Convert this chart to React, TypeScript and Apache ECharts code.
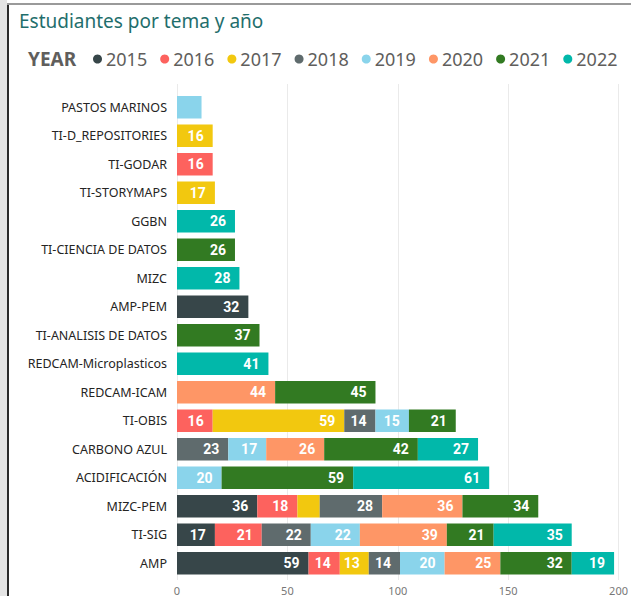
import React, { useEffect, useRef } from "react";
import * as echarts from "echarts";

const categories = [
  "PASTOS MARINOS",
  "TI-D_REPOSITORIES",
  "TI-GODAR",
  "TI-STORYMAPS",
  "GGBN",
  "TI-CIENCIA DE DATOS",
  "MIZC",
  "AMP-PEM",
  "TI-ANALISIS DE DATOS",
  "REDCAM-Microplasticos",
  "REDCAM-ICAM",
  "TI-OBIS",
  "CARBONO AZUL",
  "ACIDIFICACIÓN",
  "MIZC-PEM",
  "TI-SIG",
  "AMP",
];

const years = ["2015", "2016", "2017", "2018", "2019", "2020", "2021", "2022"];

const v2015 = [null, null, null, null, null, null, null, 32, null, null, null, null, null, null, 36, 17, 59];
const v2016 = [null, null, 16, null, null, null, null, null, null, null, null, 16, null, null, 18, 21, 14];
const v2017 = [null, 16, null, 17, null, null, null, null, null, null, null, 59, null, null, 10, null, 13];
const v2018 = [null, null, null, null, null, null, null, null, null, null, null, 14, 23, null, 28, 22, 14];
const v2019 = [11, null, null, null, null, null, null, null, null, null, null, 15, 17, 20, null, 22, 20];
const v2020 = [null, null, null, null, null, null, null, null, null, null, 44, null, 26, null, 36, 39, 25];
const v2021 = [null, null, null, null, null, 26, null, null, 37, null, 45, 21, 42, 59, 34, 21, 32];
const v2022 = [null, null, null, null, 26, null, 28, null, null, 41, null, null, 27, 61, null, 35, 19];

const yearValues = [v2015, v2016, v2017, v2018, v2019, v2020, v2021, v2022];

const xTicks = [0, 50, 100, 150, 200];

const colors = ["#374649", "#FD625E", "#F2C80F", "#5F6B6D", "#8AD4EB", "#FE9666", "#327A22", "#01B8AA"];

export default function App() {
  const ref = useRef<HTMLDivElement>(null);

  useEffect(() => {
    if (!ref.current) return;
    const chart = echarts.init(ref.current, null, { renderer: "svg" });
    const series = years.map((y, i) => ({
      name: y,
      type: "bar",
      stack: "total",
      xAxisIndex: 0,
      yAxisIndex: 0,
      barCategoryGap: "21%",
      itemStyle: { color: colors[i] },
      label: {
        show: true,
        position: "insideRight",
        distance: 9,
        color: "#ffffff",
        fontFamily: "Roboto",
        fontWeight: "bold",
        fontSize: 14,
        formatter: (p: any) => (p.value != null && p.value >= 12 ? String(p.value) : ""),
      },
      emphasis: { disabled: true },
      data: yearValues[i],
    }));

    chart.setOption({
      animation: false,
      color: colors,
      title: {
        text: "Estudiantes por tema y año",
        left: 14,
        top: 6,
        textStyle: {
          color: "#1F6E6C",
          fontFamily: "Noto Sans",
          fontWeight: "normal",
          fontSize: 19,
        },
      },
      legend: {
        left: 88,
        top: 45,
        icon: "circle",
        itemWidth: 9,
        itemHeight: 9,
        itemGap: 13,
        textStyle: {
          color: "#605E5C",
          fontFamily: "Noto Sans",
          fontSize: 18,
          padding: [0, 0, 0, -1],
        },
        data: years,
      },
      graphic: [
        { type: "rect", shape: { x: 0, y: 0, width: 7, height: 596 }, style: { fill: "#E4E4E4" } },
        { type: "rect", shape: { x: 7, y: 3, width: 2, height: 593 }, style: { fill: "#2B2B2B" } },
        { type: "rect", shape: { x: 7, y: 3, width: 624, height: 2 }, style: { fill: "#9A9A9A" } },
        {
          type: "text",
          left: 28,
          top: 49,
          style: {
            text: "YEAR",
            fill: "#605E5C",
            font: "bold 19px 'Noto Sans'",
          },
        },
      ],
      grid: [
        { left: 177, width: 446, top: 93, height: 484.5, containLabel: false },
        { left: 177, width: 446, top: 84, height: 503, containLabel: false },
      ],
      xAxis: [
        {
          type: "value",
          gridIndex: 0,
          min: xTicks[0],
          max: xTicks[xTicks.length - 1],
          interval: 50,
          axisLine: { show: false },
          axisTick: { show: false },
          axisLabel: { show: false },
          splitLine: { show: false },
        },
        {
          type: "value",
          gridIndex: 1,
          min: xTicks[0],
          max: xTicks[xTicks.length - 1],
          interval: 50,
          axisLine: { show: false },
          axisTick: { show: false },
          axisLabel: { color: "#777777", fontSize: 11, fontFamily: "Noto Sans", margin: 5 },
          splitLine: { lineStyle: { color: "#EAEAEA", width: 1 } },
          z: 0,
        },
      ],
      yAxis: [
        {
          type: "category",
          gridIndex: 0,
          inverse: true,
          data: categories,
          axisLine: { show: false },
          axisTick: { show: false },
          axisLabel: { color: "#252423", fontSize: 12.5, fontFamily: "Noto Sans", margin: 10 },
        },
        {
          type: "value",
          gridIndex: 1,
          min: 0,
          max: 1,
          show: false,
          splitLine: { show: false },
        },
      ],
      series,
    });
    return () => chart.dispose();
  }, []);

  return (
    <div
      ref={ref}
      style={{ position: "fixed", left: 0, top: 0, width: 631, height: 596, background: "#fff" }}
    />
  );
}
